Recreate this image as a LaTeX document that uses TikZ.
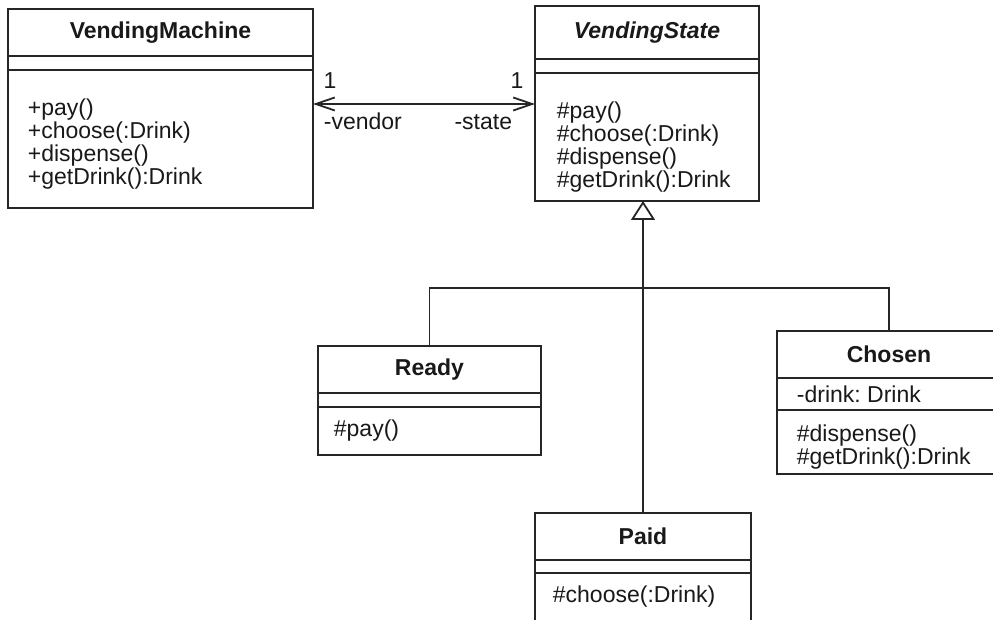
\documentclass[tikz,border=0pt]{standalone}
\usepackage{fontspec}
\setmainfont{Liberation Sans}
\usetikzlibrary{arrows.meta,positioning}
\frenchspacing

\begin{document}
\begin{tikzpicture}[
    x=1pt, y=-1pt,
    line width=1.8pt,
    every node/.style={font=\fontsize{23}{23}\selectfont, text=black!90},
    slot/.style={rectangle, draw=black!85, outer sep=0pt, inner sep=0pt},
    title/.style={slot, minimum height=47pt, font=\fontsize{23}{23}\selectfont\bfseries},
    ops/.style={anchor=north west, inner sep=0pt, align=left},
    lbl/.style={inner sep=0pt},
    assoc/.style={{Straight Barb[length=19pt, width=13pt]}-{Straight Barb[length=19pt, width=13pt]}, draw=black!85},
    inherit/.style={-{Triangle[open, length=19pt, width=24pt]}, draw=black!85}
]
\useasboundingbox (0,0) rectangle (993,620);
\fill[white] (0,0) rectangle (993,620);
\clip (0,0) rectangle (993,620);

\node[title, minimum width=305pt, anchor=north west] (vmTitle) at (8,9) {VendingMachine};
\node[slot, minimum width=305pt, minimum height=14pt, below=0pt of vmTitle] (vmAttr) {};
\node[slot, minimum width=305pt, minimum height=138pt, below=0pt of vmAttr] (vmOps) {};
\node[ops, below right=28pt and 19pt of vmOps.north west] (vmOpsText) {+pay()\\+choose(:Drink)\\+dispense()\\+getDrink():Drink};

\node[title, minimum width=224pt, minimum height=53pt, anchor=north west, font=\fontsize{23}{23}\selectfont\bfseries\itshape] (vsTitle) at (535,6) {VendingState};
\node[slot, minimum width=224pt, minimum height=14pt, below=0pt of vsTitle] (vsAttr) {};
\node[slot, minimum width=224pt, minimum height=128pt, below=0pt of vsAttr] (vsOps) {};
\node[ops, below right=28pt and 21pt of vsOps.north west] (vsOpsText) {\#pay()\\\#choose(:Drink)\\\#dispense()\\\#getDrink():Drink};

\node[title, minimum width=223pt, anchor=north west] (readyTitle) at (318,346) {Ready};
\node[slot, minimum width=223pt, minimum height=14pt, below=0pt of readyTitle] (readyAttr) {};
\node[slot, minimum width=223pt, minimum height=48pt, below=0pt of readyAttr] (readyOps) {};
\node[ops, below right=12pt and 15pt of readyOps.north west] (readyOpsText) {\#pay()};

\node[title, minimum width=216pt, anchor=north west] (paidTitle) at (535,513) {Paid};
\node[slot, minimum width=216pt, minimum height=13pt, below=0pt of paidTitle] (paidAttr) {};
\node[slot, minimum width=216pt, minimum height=70pt, below=0pt of paidAttr] (paidOps) {};
\node[ops, below right=12pt and 17pt of paidOps.north west] (paidOpsText) {\#choose(:Drink)};

\node[title, minimum width=224pt, anchor=north west] (chosenTitle) at (777,331) {Chosen};
\node[slot, minimum width=224pt, minimum height=32pt, below=0pt of chosenTitle] (chosenAttr) {};
\node[lbl, anchor=west] (chosenAttrText) at ([xshift=19pt]chosenAttr.west) {-drink: Drink};
\node[slot, minimum width=224pt, minimum height=64pt, below=0pt of chosenAttr] (chosenOps) {};
\node[ops, below right=14pt and 19pt of chosenOps.north west] (chosenOpsText) {\#dispense()\\\#getDrink():Drink};

\coordinate (vmEnd) at ([yshift=-34pt]vmOps.north east);
\coordinate (vsEnd) at (vmEnd -| vsOps.west);
\draw[assoc] (vmEnd) -- (vsEnd);
\node[lbl, anchor=base] (vmMult) at ([shift={(17pt,15pt)}]vmEnd) {1};
\node[lbl, anchor=base west] (vmRole) at ([shift={(10pt,-26pt)}]vmEnd) {-vendor};
\node[lbl, anchor=base] (vsMult) at ([shift={(-18pt,15pt)}]vsEnd) {1};
\node[lbl, anchor=base east] (vsRole) at ([shift={(-22pt,-26pt)}]vsEnd) {-state};

\draw[inherit] (paidTitle.north) -- (paidTitle.north |- vsOps.south);
\draw[draw=black!85] (readyTitle.north) -- ++(0,-58) -| (chosenTitle.north);
\end{tikzpicture}
\end{document}
